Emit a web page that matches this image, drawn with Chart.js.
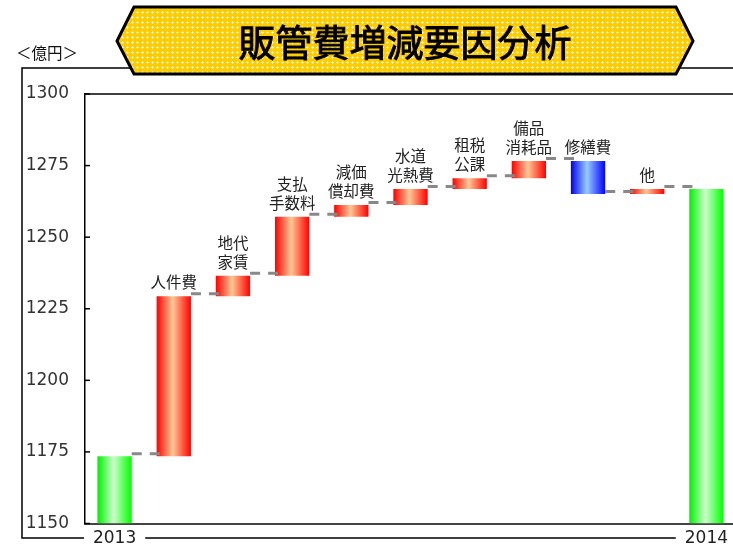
<!DOCTYPE html>
<html><head><meta charset="utf-8">
<script src="https://cdn.jsdelivr.net/npm/chart.js@4/dist/chart.umd.min.js"></script>
<style>html,body{margin:0;padding:0;background:#fff;overflow:hidden}#wrap{position:relative;width:733px;height:544px;overflow:hidden}</style>
</head><body><div id="wrap"><canvas id="c" width="736" height="544"></canvas></div>
<script>
// ---- data ----
const categories = ['2013','人件費','地代家賃','支払手数料','減価償却費','水道光熱費','租税公課','備品消耗品','修繕費','他','2014'];
const barLabels = [[], ['人件費'], ['地代','家賃'], ['支払','手数料'], ['減価','償却費'], ['水道','光熱費'], ['租税','公課'], ['備品','消耗品'], ['修繕費'], ['他'], []];
const startValue = 1173.5;
const changes = [55.9, 7.1, 20.6, 4.1, 5.6, 3.8, 6.0, -11.5, 1.7];
const endValue = 1266.8;
const yTicks = [1150, 1175, 1200, 1225, 1250, 1275, 1300];
const xTickLabels = ['2013', '', '', '', '', '', '', '', '', '', '2014'];
const titleText = '販管費増減要因分析';
const unitText = '＜億円＞';

// ---- build floating ranges ----
const base = yTicks[0];
const ranges = [[base, startValue]];
const kinds = ['total'];
const levels = [startValue];
let cum = startValue;
changes.forEach(d => {
  const next = cum + d;
  ranges.push([cum, next]);
  kinds.push(d >= 0 ? 'inc' : 'dec');
  cum = next;
  levels.push(cum);
});
ranges.push([base, endValue]);
kinds.push('total');
levels.push(endValue);

const palette = { total: ['#00f000', '#ccffcc', '#00ff00'], inc: ['#ff0000', '#ffc896', '#ff0000'], dec: ['#0000ee', '#99ccff', '#0000ff'] };
const BAR_PCT = 0.58;

function barFill(ctx) {
  const ch = ctx.chart;
  const p = palette[kinds[ctx.dataIndex]];
  if (!ch.chartArea || !ch.scales.x) return p[0];
  const xs = ch.scales.x;
  const cx = xs.getPixelForValue(ctx.dataIndex);
  const w = (xs.getPixelForValue(1) - xs.getPixelForValue(0)) * BAR_PCT;
  const g = ch.ctx.createLinearGradient(cx - w / 2, 0, cx + w / 2, 0);
  g.addColorStop(0, p[0]);
  g.addColorStop(0.47, p[1]);
  g.addColorStop(1, p[2]);
  return g;
}

function dotPattern(c) {
  const t = document.createElement('canvas');
  t.width = 5; t.height = 5;
  const x = t.getContext('2d');
  x.fillStyle = '#ffcc00';
  x.fillRect(0, 0, 5, 5);
  x.fillStyle = 'rgba(255,240,170,0.9)';
  x.fillRect(1, 2, 1, 1); x.fillRect(3, 2, 1, 1); x.fillRect(2, 1, 1, 1); x.fillRect(2, 3, 1, 1);
  x.fillStyle = '#ffffff';
  x.fillRect(2, 2, 1, 1);
  return c.createPattern(t, 'repeat');
}

const framePlugin = {
  id: 'frame',
  beforeDraw(chart) {
    const c = chart.ctx;
    c.save();
    c.fillStyle = '#fff';
    c.fillRect(0, 0, chart.width, chart.height);
    // outer frame
    c.strokeStyle = '#000';
    c.lineWidth = 1.5;
    c.beginPath();
    c.moveTo(chart.width + 2, 68); c.lineTo(22, 68); c.lineTo(22, 538); c.lineTo(chart.width + 2, 538);
    c.stroke();
    // unit
    c.fillStyle = '#111';
    c.font = '15.5px "Noto Sans CJK JP"';
    c.textAlign = 'center';
    c.textBaseline = 'middle';
    c.fillText(unitText, 47, 53);
    // banner
    c.beginPath();
    c.moveTo(134, 7); c.lineTo(676, 7); c.lineTo(693, 41); c.lineTo(676, 74); c.lineTo(134, 74); c.lineTo(117, 41); c.closePath();
    c.fillStyle = dotPattern(c);
    c.fill();
    c.lineWidth = 3;
    c.lineJoin = 'miter';
    c.strokeStyle = '#000';
    c.stroke();
    c.fillStyle = '#000';
    c.strokeStyle = '#000';
    c.lineWidth = 0.9;
    c.font = '37px "Noto Sans CJK JP"';
    c.fillText(titleText, 405, 43);
    c.strokeText(titleText, 405, 43);
    c.restore();
  }
};

const overlayPlugin = {
  id: 'overlay',
  afterDatasetsDraw(chart) {
    const c = chart.ctx;
    const area = chart.chartArea;
    const ys = chart.scales.y;
    const bars = chart.getDatasetMeta(0).data;
    c.save();
    // top border
    c.strokeStyle = '#000';
    c.lineWidth = 1.5;
    c.beginPath();
    c.moveTo(area.left, area.top); c.lineTo(chart.width, area.top);
    c.stroke();
    // inward tick marks
    yTicks.forEach(v => {
      const y = ys.getPixelForValue(v);
      c.beginPath(); c.moveTo(area.left, y); c.lineTo(area.left + 5, y); c.stroke();
    });
    // connectors
    c.strokeStyle = '#888';
    c.lineWidth = 3;
    c.setLineDash([10, 8]);
    for (let i = 0; i < bars.length - 1; i++) {
      const a = bars[i], b = bars[i + 1];
      const y = ys.getPixelForValue(levels[i]) - 2.5;
      c.beginPath();
      c.moveTo(a.x + a.width / 2, y);
      c.lineTo(b.x - b.width / 2 + 4, y);
      c.stroke();
    }
    c.setLineDash([]);
    // labels above bars
    c.fillStyle = '#222';
    c.font = '15.5px "Noto Sans CJK JP"';
    c.textAlign = 'center';
    c.textBaseline = 'middle';
    bars.forEach((el, i) => {
      const lines = barLabels[i];
      if (!lines.length) return;
      const top = Math.min(el.y, el.base);
      lines.forEach((t, j) => {
        c.fillText(t, el.x, top - 14 - (lines.length - 1 - j) * 19);
      });
    });
    c.restore();
  }
};

new Chart(document.getElementById('c'), {
  type: 'bar',
  data: {
    labels: categories,
    datasets: [{
      data: ranges,
      backgroundColor: barFill,
      borderWidth: 0,
      barPercentage: BAR_PCT,
      categoryPercentage: 1
    }]
  },
  options: {
    responsive: false,
    animation: false,
    devicePixelRatio: 1,
    layout: { padding: { left: 26, top: 94, right: 0, bottom: 0 } },
    plugins: { legend: { display: false }, tooltip: { enabled: false }, title: { display: false } },
    scales: {
      x: {
        grid: { display: false, drawTicks: false },
        border: { display: true, color: '#444', width: 2 },
        afterFit: s => { s.height = 20.5; s.paddingLeft = 0; s.paddingRight = 0; },
        ticks: {
          padding: 9.5, autoSkip: false, maxRotation: 0, color: '#222',
          font: { family: 'DejaVu Sans', size: 17, lineHeight: 0.65 },
          callback: (v, i) => xTickLabels[i],
          showLabelBackdrop: true,
          backdropColor: c => (xTickLabels[c.index] ? '#fff' : 'rgba(0,0,0,0)'),
          backdropPadding: { x: 9, y: 2 }
        }
      },
      y: {
        min: yTicks[0], max: yTicks[yTicks.length - 1],
        afterBuildTicks: a => { a.ticks = yTicks.map(v => ({ value: v })); },
        afterFit: s => { s.width = 59; s.paddingTop = 0; s.paddingBottom = 0; },
        grid: { display: false, drawTicks: false },
        border: { display: true, color: '#000', width: 1.5 },
        ticks: { padding: 16, color: '#333', font: { family: 'DejaVu Sans', size: 17 }, callback: v => String(v) }
      }
    }
  },
  plugins: [framePlugin, overlayPlugin]
});
</script>
</body></html>
